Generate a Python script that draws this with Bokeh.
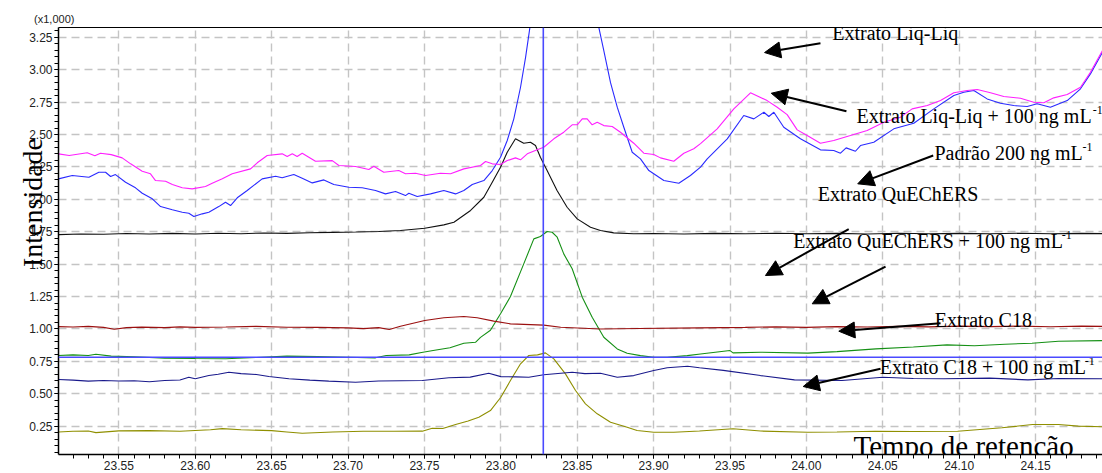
import math
from bokeh.plotting import figure
from bokeh.models import (Range1d, SingleIntervalTicker, Span, Arrow, NormalHead, Label,
                          ColumnDataSource, PrintfTickFormatter, LinearAxis)
from bokeh.core.properties import value
from bokeh.embed import file_html
from bokeh.resources import INLINE

# ---------------- data (retention time [min], intensity [x1000]) ----------------
liq_spiked = [(23.5105, 2.351), (23.5175, 2.338), (23.5293, 2.359), (23.5343, 2.336), (23.538, 2.356),
    (23.545, 2.345), (23.5522, 2.32), (23.5577, 2.274), (23.5653, 2.217), (23.5707, 2.197), (23.574, 2.145),
    (23.5806, 2.14), (23.585, 2.114), (23.5915, 2.089), (23.598, 2.081), (23.6067, 2.099), (23.6111, 2.124),
    (23.6177, 2.158), (23.6242, 2.197), (23.6362, 2.235), (23.6406, 2.282), (23.6471, 2.338), (23.6569, 2.351),
    (23.6602, 2.33), (23.6635, 2.351), (23.6667, 2.33), (23.670, 2.356), (23.6787, 2.294), (23.6897, 2.299),
    (23.694, 2.261), (23.7049, 2.253), (23.7136, 2.23), (23.7169, 2.255), (23.7234, 2.209), (23.7332, 2.222),
    (23.7376, 2.197), (23.7442, 2.201), (23.7507, 2.184), (23.7605, 2.201), (23.7671, 2.197), (23.7758, 2.235),
    (23.7867, 2.261), (23.79, 2.292), (23.7944, 2.274), (23.7998, 2.269), (23.8042, 2.299), (23.8096, 2.32),
    (23.8129, 2.305), (23.8173, 2.351), (23.8238, 2.382), (23.8281, 2.402), (23.8347, 2.467), (23.8412, 2.518),
    (23.8467, 2.575), (23.85, 2.575), (23.8533, 2.621), (23.8565, 2.621), (23.8598, 2.575), (23.8631, 2.595),
    (23.8674, 2.569), (23.8729, 2.562), (23.8783, 2.518), (23.887, 2.433), (23.8936, 2.356), (23.9001, 2.346),
    (23.9045, 2.32), (23.9132, 2.294), (23.9198, 2.356), (23.9263, 2.39), (23.9307, 2.43), (23.9416, 2.544),
    (23.9525, 2.698), (23.9634, 2.822), (23.9743, 2.762), (23.9809, 2.711), (23.9874, 2.654), (23.994, 2.536),
    (24.0005, 2.492), (24.0092, 2.433), (24.0179, 2.454), (24.0288, 2.492), (24.0398, 2.531), (24.0507, 2.595),
    (24.0616, 2.634), (24.0692, 2.698), (24.0791, 2.724), (24.0878, 2.762), (24.0965, 2.822), (24.1052, 2.84),
    (24.1118, 2.847), (24.1205, 2.822), (24.1292, 2.793), (24.1401, 2.78), (24.1488, 2.749), (24.1554, 2.745),
    (24.1619, 2.783), (24.1707, 2.809), (24.1794, 2.865), (24.1859, 2.981), (24.1938, 3.148)]

liq = [(23.5105, 2.158), (23.5195, 2.184), (23.5304, 2.171), (23.5369, 2.209), (23.5413, 2.209),
    (23.5446, 2.176), (23.5478, 2.191), (23.5544, 2.132), (23.5609, 2.089), (23.5653, 2.047), (23.5719, 2.004),
    (23.5773, 1.944), (23.585, 1.919), (23.5915, 1.9), (23.5958, 1.893), (23.5991, 1.867), (23.6046, 1.888),
    (23.6089, 1.9), (23.6154, 1.944), (23.6198, 1.978), (23.6231, 1.952), (23.6275, 2.012), (23.634, 2.068),
    (23.6438, 2.158), (23.6526, 2.178), (23.6569, 2.166), (23.6645, 2.191), (23.67, 2.163), (23.6766, 2.127),
    (23.6842, 2.15), (23.6907, 2.114), (23.7005, 2.093), (23.7093, 2.089), (23.718, 2.068), (23.7245, 2.042),
    (23.7311, 2.06), (23.7376, 2.029), (23.7398, 2.047), (23.7453, 2.022), (23.754, 2.042), (23.7627, 2.068),
    (23.7704, 2.042), (23.7758, 2.068), (23.7813, 2.114), (23.7889, 2.145), (23.7944, 2.222), (23.7998, 2.325),
    (23.8042, 2.454), (23.8085, 2.621), (23.8129, 2.865), (23.8162, 3.096), (23.819, 3.323), (23.826, 3.95),
    (23.84, 4.45), (23.855, 4.0), (23.8642, 3.323), (23.8674, 3.148), (23.8718, 2.9), (23.8762, 2.711),
    (23.8805, 2.556), (23.886, 2.363), (23.8914, 2.312), (23.8969, 2.222), (23.9067, 2.145), (23.9165, 2.124),
    (23.9241, 2.184), (23.9307, 2.248), (23.9351, 2.312), (23.9482, 2.467), (23.959, 2.647), (23.9656, 2.621),
    (23.9722, 2.672), (23.9754, 2.639), (23.9787, 2.672), (23.9852, 2.556), (23.9961, 2.467), (24.0092, 2.382),
    (24.0179, 2.377), (24.0223, 2.356), (24.026, 2.397), (24.0321, 2.371), (24.0354, 2.415), (24.0441, 2.441),
    (24.0572, 2.544), (24.0703, 2.587), (24.0834, 2.698), (24.0965, 2.801), (24.103, 2.826), (24.1096, 2.84),
    (24.1183, 2.775), (24.127, 2.742), (24.1357, 2.724), (24.1445, 2.716), (24.151, 2.737), (24.1597, 2.711),
    (24.1707, 2.762), (24.1794, 2.853), (24.1859, 2.968), (24.1938, 3.135)]

standard = [(23.5105, 1.728), (23.525, 1.733), (23.54, 1.731), (23.555, 1.736), (23.57, 1.733),
    (23.585, 1.737), (23.60, 1.733), (23.615, 1.738), (23.63, 1.735), (23.645, 1.74), (23.66, 1.737),
    (23.675, 1.742), (23.69, 1.745), (23.705, 1.748), (23.72, 1.752), (23.7343, 1.759), (23.7502, 1.777),
    (23.7627, 1.803), (23.7693, 1.823), (23.7802, 1.914), (23.7889, 2.016), (23.7944, 2.132), (23.7998, 2.248),
    (23.8042, 2.363), (23.8096, 2.467), (23.815, 2.433), (23.8194, 2.441), (23.8227, 2.415), (23.8259, 2.325),
    (23.8303, 2.222), (23.8368, 2.068), (23.8434, 1.939), (23.85, 1.849), (23.8587, 1.785), (23.8652, 1.759),
    (23.8739, 1.741), (23.887, 1.734), (23.90, 1.736), (23.92, 1.733), (23.94, 1.737), (23.96, 1.734),
    (23.98, 1.738), (24.00, 1.735), (24.02, 1.737), (24.04, 1.733), (24.06, 1.738), (24.08, 1.734),
    (24.10, 1.737), (24.12, 1.735), (24.14, 1.738), (24.16, 1.734), (24.18, 1.737), (24.194, 1.735)]

c18 = [(23.5105, 1.018), (23.52, 1.015), (23.53, 1.02), (23.54, 1.012), (23.547, 0.998), (23.555, 1.01),
    (23.565, 1.014), (23.58, 1.01), (23.59, 1.016), (23.60, 1.012), (23.62, 1.015), (23.64, 1.02),
    (23.66, 1.013), (23.68, 1.012), (23.70, 1.008), (23.71, 1.002), (23.72, 1.01), (23.727, 0.995),
    (23.7343, 1.021), (23.7502, 1.065), (23.7627, 1.086), (23.7758, 1.096), (23.7845, 1.086), (23.7954, 1.06),
    (23.8063, 1.039), (23.8281, 1.029), (23.8392, 1.013), (23.8652, 1.0), (23.89, 1.003), (23.93, 1.008),
    (23.96, 1.012), (23.98, 1.016), (24.00, 1.012), (24.02, 1.018), (24.04, 1.015), (24.06, 1.02),
    (24.08, 1.016), (24.10, 1.022), (24.12, 1.018), (24.14, 1.022), (24.16, 1.017), (24.18, 1.022),
    (24.194, 1.02)]

quechers_spiked = [(23.5105, 0.795), (23.52, 0.80), (23.53, 0.795), (23.535, 0.805), (23.545, 0.79),
    (23.56, 0.785), (23.58, 0.775), (23.60, 0.772), (23.62, 0.77), (23.64, 0.78), (23.66, 0.79),
    (23.68, 0.787), (23.70, 0.782), (23.718, 0.777), (23.725, 0.795), (23.74, 0.80), (23.7481, 0.818),
    (23.7557, 0.833), (23.7667, 0.855), (23.7758, 0.89), (23.7834, 0.897), (23.7867, 0.935), (23.7932, 0.99),
    (23.7998, 1.117), (23.8063, 1.25), (23.815, 1.502), (23.8216, 1.695), (23.8259, 1.713), (23.8303, 1.752),
    (23.8336, 1.746), (23.8369, 1.708), (23.8412, 1.579), (23.8467, 1.464), (23.8533, 1.245), (23.8598, 1.09),
    (23.8674, 0.936), (23.8762, 0.846), (23.8827, 0.812), (23.8914, 0.794), (23.9001, 0.781), (23.9088, 0.781),
    (23.922, 0.794), (23.9307, 0.806), (23.95, 0.833), (23.952, 0.815), (23.97, 0.82), (24.001, 0.813),
    (24.02, 0.825), (24.0455, 0.846), (24.07, 0.86), (24.092, 0.877), (24.11, 0.87), (24.13, 0.882),
    (24.1476, 0.89), (24.165, 0.905), (24.194, 0.91)]

c18_spiked = [(23.5105, 0.61), (23.52, 0.605), (23.53, 0.597), (23.54, 0.602), (23.55, 0.598), (23.56, 0.6),
    (23.57, 0.592), (23.58, 0.602), (23.59, 0.606), (23.5958, 0.627), (23.60, 0.615), (23.6089, 0.64),
    (23.615, 0.65), (23.622, 0.666), (23.63, 0.655), (23.64, 0.648), (23.6482, 0.633), (23.6613, 0.615),
    (23.675, 0.605), (23.6874, 0.597), (23.7049, 0.589), (23.72, 0.598), (23.735, 0.6), (23.7486, 0.602),
    (23.766, 0.623), (23.78, 0.628), (23.7921, 0.658), (23.80, 0.632), (23.81, 0.63), (23.8183, 0.627),
    (23.8281, 0.646), (23.8467, 0.666), (23.855, 0.655), (23.8652, 0.658), (23.8762, 0.627), (23.887, 0.64),
    (23.9001, 0.679), (23.9089, 0.70), (23.9222, 0.712), (23.93, 0.70), (23.9456, 0.68), (23.97, 0.64),
    (23.9922, 0.607), (24.0233, 0.602), (24.05, 0.627), (24.07, 0.618), (24.09, 0.615), (24.12, 0.62),
    (24.145, 0.607), (24.165, 0.618), (24.194, 0.615)]

blank_olive = [(23.5105, 0.205), (23.52, 0.21), (23.53, 0.212), (23.535, 0.2), (23.55, 0.213), (23.57, 0.215),
    (23.59, 0.21), (23.61, 0.222), (23.6177, 0.231), (23.63, 0.222), (23.65, 0.215), (23.66, 0.205),
    (23.67, 0.195), (23.69, 0.205), (23.71, 0.21), (23.73, 0.21), (23.7486, 0.211), (23.7551, 0.234),
    (23.762, 0.232), (23.7704, 0.262), (23.7786, 0.29), (23.7856, 0.319), (23.7932, 0.37), (23.80, 0.473),
    (23.8063, 0.602), (23.8129, 0.731), (23.8183, 0.795), (23.824, 0.80), (23.8292, 0.815), (23.8347, 0.769),
    (23.8423, 0.653), (23.8489, 0.525), (23.8554, 0.422), (23.8631, 0.345), (23.8718, 0.28), (23.8827, 0.242),
    (23.8892, 0.216), (23.9001, 0.203), (23.9132, 0.203), (23.93, 0.212), (23.952, 0.23), (23.97, 0.212),
    (24.001, 0.203), (24.02, 0.205), (24.045, 0.21), (24.07, 0.208), (24.099, 0.21), (24.128, 0.237),
    (24.148, 0.262), (24.165, 0.262), (24.178, 0.25), (24.194, 0.245)]

series = [
    (blank_olive, "#8f8f00"),
    (c18_spiked, "#1a1a8c"),
    (quechers_spiked, "#159015"),
    (c18, "#9b1010"),
    (standard, "#101010"),
    (liq, "#2a2aff"),
    (liq_spiked, "#ff20ff"),
]

cursor_time = 23.8278
cursor_level = 0.781

ann_text = ["Extrato Liq-Liq", "Extrato Liq-Liq + 100 ng mL", "Padrão 200 ng mL", "Extrato QuEChERS",
            "Extrato QuEChERS + 100 ng mL", "Extrato C18", "Extrato C18 + 100 ng mL"]
ann_x = [24.0169, 24.0328, 24.0838, 24.0075, 23.9914, 24.084, 24.048]
ann_y = [3.2253, 2.5826, 2.294, 1.983, 1.618, 1.0085, 0.6481]
sup_text = ["-1", "-1", "-1", "-1"]
sup_x = [24.1874, 24.1807, 24.1671, 24.1822]
sup_y = [2.5826, 2.294, 1.618, 0.6481]

arrow_x0 = [24.0092, 24.0262, 24.083, 24.0277, 24.0518, 24.0878, 24.0485]
arrow_y0 = [3.2045, 2.6798, 2.338, 1.7693, 1.4815, 1.044, 0.6921]
arrow_x1 = [23.9726, 23.977, 24.0336, 23.9732, 24.0038, 24.0212, 23.9979]
arrow_y1 = [3.1327, 2.8187, 2.1196, 1.412, 1.1937, 0.9823, 0.5556]

x_title = "Tempo de retenção"
x_title_pos = (24.0308, 0.0386)
y_title = "Intensidade"
scale_note = "(x1,000)"
scale_note_pos = (23.4945, 3.39)

# ---------------- figure ----------------
p = figure(width=1102, height=473, output_backend="svg", toolbar_location=None,
           x_range=Range1d(23.5105, 24.1938), y_range=Range1d(0.031, 3.326),
           min_border_left=58, min_border_right=0, min_border_top=27, min_border_bottom=19)
p.outline_line_color = None
p.background_fill_color = "white"
p.border_fill_color = "white"

p.xaxis.ticker = SingleIntervalTicker(interval=0.05, num_minor_ticks=5)
p.yaxis.ticker = SingleIntervalTicker(interval=0.25, num_minor_ticks=5)
for ax in (p.xaxis[0], p.yaxis[0]):
    ax.formatter = PrintfTickFormatter(format="%.2f")
    ax.major_label_text_font = "Liberation Sans"
    ax.major_label_text_font_size = "12px"
    ax.major_label_text_color = "#222222"
    ax.axis_line_color = "black"
    ax.axis_line_width = 1.5
    ax.major_tick_out = 4
    ax.major_tick_in = 0
    ax.minor_tick_out = 4
    ax.minor_tick_in = 0
    ax.major_tick_line_color = "black"
    ax.minor_tick_line_color = "black"
    ax.major_label_standoff = 2

# y title drawn by the axis itself, pulled over the tick labels as in the original;
# leading no-break spaces shift its centre upward to where the original shows it
yax = p.yaxis[0]
yax.axis_label = "\u00a0" * 11 + y_title
yax.axis_label_text_font = "Liberation Serif"
yax.axis_label_text_font_size = "28px"
yax.axis_label_text_font_style = "normal"
yax.axis_label_text_color = "black"
yax.axis_label_standoff = -22

top = LinearAxis(ticker=SingleIntervalTicker(interval=10), major_tick_out=0, major_tick_in=0,
                 minor_tick_out=0, minor_tick_in=0, major_label_text_font_size="0px",
                 axis_line_color="black", axis_line_width=1.2)
p.add_layout(top, "above")

p.grid.grid_line_color = "#c4c4c4"
p.grid.grid_line_dash = "8 5"
p.grid.grid_line_width = 1.4

for data, color in series:
    xs = [d[0] for d in data]
    ys = [d[1] for d in data]
    p.line(xs, ys, line_color=color, line_width=1.1)

p.add_layout(Span(location=cursor_time, dimension="height", line_color="#4a4aff", line_width=1.6))
p.add_layout(Span(location=cursor_level, dimension="width", line_color="#4a4aff", line_width=1.6))

ann_src = ColumnDataSource(dict(x=ann_x, y=ann_y, text=ann_text))
p.text(x="x", y="y", text="text", source=ann_src, text_font=value("Liberation Serif"),
       text_font_size="20px", text_baseline="alphabetic", text_align="left", text_color="black",
       y_offset=-8)
sup_src = ColumnDataSource(dict(x=sup_x, y=sup_y, text=sup_text))
p.text(x="x", y="y", text="text", source=sup_src, text_font=value("Liberation Serif"),
       text_font_size="12px", text_baseline="alphabetic", text_align="left", text_color="black",
       y_offset=-14)

for x0, y0, x1, y1 in zip(arrow_x0, arrow_y0, arrow_x1, arrow_y1):
    p.add_layout(Arrow(x_start=x0, y_start=y0, x_end=x1, y_end=y1, line_width=2, line_color="black",
                       end=NormalHead(size=16, fill_color="black", line_color="black")))

p.text(x=[x_title_pos[0]], y=[x_title_pos[1]], text=[x_title], text_font=value("Liberation Serif"),
       text_font_size="29px", text_baseline="alphabetic", text_align="left", text_color="black",
       y_offset=-8)

p.add_layout(Label(x=scale_note_pos[0], y=scale_note_pos[1], text=scale_note, text_align="left",
                   text_baseline="middle", text_font="Liberation Sans", text_font_size="11px",
                   text_color="#222222"), "above")

open("out.html", "w").write(file_html(p, INLINE))
